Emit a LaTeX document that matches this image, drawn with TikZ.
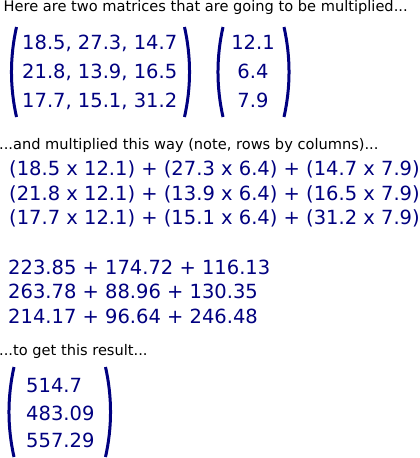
\documentclass[tikz,border=0pt]{standalone}
\usepackage{fontspec}
\setmainfont{DejaVu Sans}
\usetikzlibrary{calc,backgrounds}
\definecolor{matnavy}{HTML}{000080}

\begin{document}
\begin{tikzpicture}[%
    x=1pt, y=-1pt,%
    show background rectangle,%
    tight background,%
    background rectangle/.style={fill=white},%
    note/.style={anchor=base west, inner sep=0pt, text=black, font=\fontsize{14.6}{17}\selectfont},%
    num/.style={anchor=base west, inner sep=0pt, text=matnavy, font=\fontsize{19.5}{23}\selectfont},%
    paren/.style={draw=matnavy, line width=3pt},%
  ]
  % Frame
  \useasboundingbox (0,0) rectangle (420,458);

  %
  % Définitions
  %
  \tikzset{
    lparen/.pic={
      \draw[paren] (2.5,-45) .. controls (-4.2,-15) and (-4.2,15) .. (2.5,45);
    },
    rparen/.pic={
      \draw[paren] (-2.5,-45) .. controls (4.2,-15) and (4.2,15) .. (-2.5,45);
    },
  }
  \pgfmathsetmacro{\xtxt}{-1};%
  \pgfmathsetmacro{\xrow}{22};%
  \pgfmathsetmacro{\xvec}{253};%
  \pgfmathsetmacro{\xsum}{8};%
  \pgfmathsetmacro{\xres}{26};%

  %
  % Dessin
  %
  % Intro
  \node[note] (intro) at (3.5,11.5) {Here are two matrices that are going to be multiplied...};

  % Matrix A
  \node[num] (mA1) at (\xrow,49) {18.5, 27.3, 14.7};
  \node[num] (mA2) at (\xrow,78) {21.8, 13.9, 16.5};
  \node[num] (mA3) at (\xrow,107) {17.7, 15.1, 31.2};
  \pic at (14,72) {lparen};
  \pic at (187,72) {rparen};

  % Vector B
  \node[num, anchor=base] (vB1) at (\xvec,49) {12.1};
  \node[num, anchor=base] (vB2) at (\xvec,78) {6.4};
  \node[num, anchor=base] (vB3) at (\xvec,107) {7.9};
  \pic at (220.5,72) {lparen};
  \pic at (286.5,72) {rparen};

  % Rows by columns
  \node[note] (way) at (\xtxt,149) {...and multiplied this way (note, rows by columns)...};
  \node[num] (prod1) at (9,175) {(18.5 x 12.1) + (27.3 x 6.4) + (14.7 x 7.9)};
  \node[num] (prod2) at (9,200) {(21.8 x 12.1) + (13.9 x 6.4) + (16.5 x 7.9)};
  \node[num] (prod3) at (9,224) {(17.7 x 12.1) + (15.1 x 6.4) + (31.2 x 7.9)};

  % Sums
  \node[num] (sum1) at (\xsum,274) {223.85 + 174.72 + 116.13};
  \node[num] (sum2) at (\xsum,298) {263.78 + 88.96 + 130.35};
  \node[num] (sum3) at (\xsum,323) {214.17 + 96.64 + 246.48};

  % Result
  \node[note] (result) at (\xtxt,355) {...to get this result...};
  \node[num] (res1) at (\xres,392) {514.7};
  \node[num] (res2) at (\xres,420) {483.09};
  \node[num] (res3) at (\xres,447) {557.29};
  \pic at (11.5,412) {lparen};
  \pic at (108,412) {rparen};

\end{tikzpicture}
\end{document}
